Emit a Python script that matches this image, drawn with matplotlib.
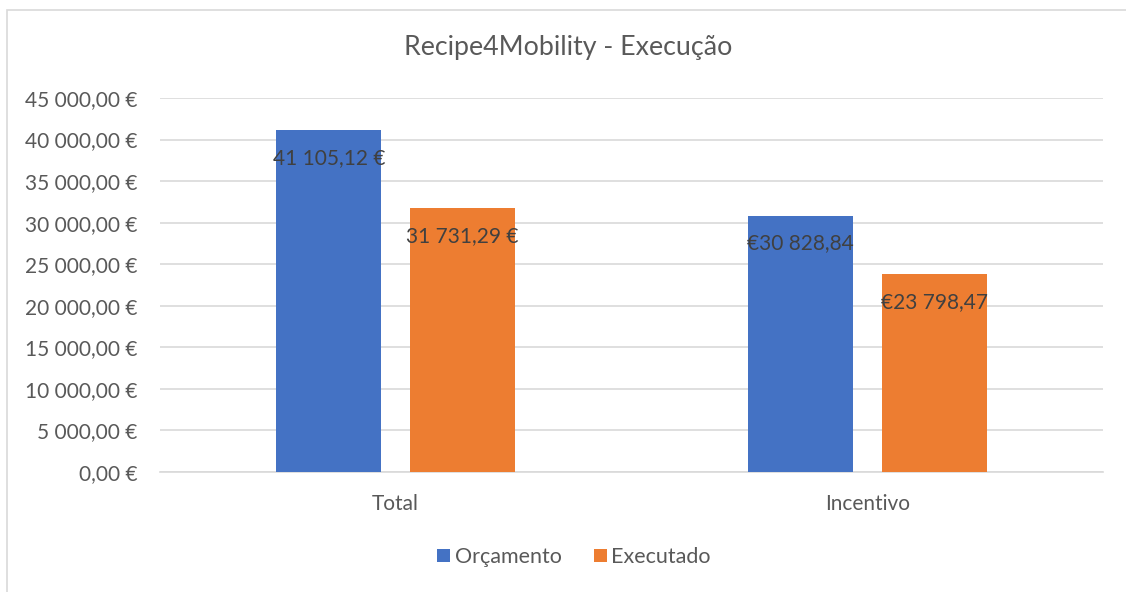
import numpy as np
import matplotlib.pyplot as plt
from matplotlib.ticker import FuncFormatter
from matplotlib.patches import Rectangle

plt.rcParams['font.family'] = ['Lato', 'DejaVu Sans']

categories = ['Total', 'Incentivo']
orcamento = [41105.12, 30828.84]
executado = [31731.29, 23798.47]
orc_labels = ['41 105,12 €', '€30 828,84']
exe_labels = ['31 731,29 €', '€23 798,47']
series = ['Orçamento', 'Executado']

blue = '#4472C4'
orange = '#ED7D31'
txt = '#595959'

def eur(v, pos):
    s = f'{v:,.2f}'.replace(',', ' ').replace('.', ',')
    return s + ' €'

fig = plt.figure(figsize=(11.26, 5.92), dpi=100)
ax = fig.add_axes([160/1126, 1-472/592, 943/1126, 374/592])

x = np.arange(len(categories))
w = 0.223
off = 0.142
b1 = ax.bar(x - off, orcamento, w, color=blue, label=series[0], zorder=3)
b2 = ax.bar(x + off, executado, w, color=orange, label=series[1], zorder=3)

for bars, labs in ((b1, orc_labels), (b2, exe_labels)):
    for r, lab in zip(bars, labs):
        ax.annotate(lab, (r.get_x() + r.get_width()/2, r.get_height()),
                    xytext=(0, -20), textcoords='offset points',
                    ha='center', va='center', fontsize=15, color='#404040', zorder=4)

ax.set_xlim(-0.5, 1.5)
ax.set_ylim(0, 45000)
ax.set_yticks(np.arange(0, 45001, 5000))
ax.yaxis.set_major_formatter(FuncFormatter(eur))
ax.set_xticks(x)
ax.set_xticklabels(categories)
ax.tick_params(axis='both', length=0, labelsize=15, colors=txt)
ax.tick_params(axis='x', pad=16)
ax.tick_params(axis='y', pad=16)
ax.grid(axis='y', color='#D9D9D9', linewidth=1.2, zorder=0)
for s in ['top', 'right', 'left']:
    ax.spines[s].set_visible(False)
ax.spines['bottom'].set_color('#D9D9D9')
ax.spines['bottom'].set_linewidth(1.2)

fig.text(568/1126, 1-48/592, 'Recipe4Mobility - Execução', ha='center', va='center',
         fontsize=19.3, color=txt)

fig.legend(loc='center', bbox_to_anchor=(574/1126, 1-557/592), ncol=2, frameon=False,
           fontsize=15.5, handlelength=0.6, handleheight=0.6, handletextpad=0.2,
           columnspacing=1.5, labelcolor=txt)

fig.patches.append(Rectangle((7/1126, -0.05), 1.1, 1-10/592 + 0.05, transform=fig.transFigure,
                             fill=False, edgecolor='#D9D9D9', linewidth=1.2))

fig.savefig('out.png', dpi=100)
